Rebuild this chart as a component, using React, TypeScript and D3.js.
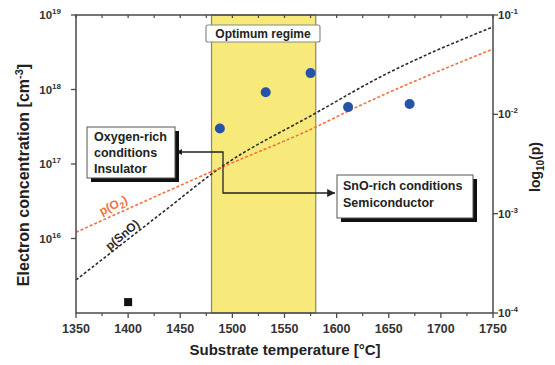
import React from "react";
import * as d3 from "d3";

const tempTicks = [1350, 1400, 1450, 1500, 1550, 1600, 1650, 1700, 1750];
const tempMinorTicks = [1375, 1425, 1475, 1525, 1575, 1625, 1675, 1725];
const leftExps = [16, 17, 18, 19];
const rightExps = [-4, -3, -2, -1];

const sampleT = [1488, 1532, 1575, 1611, 1670];
const sampleN = [3.0e17, 9.2e17, 1.66e18, 5.8e17, 6.4e17];

const refT = [1400];
const refN = [1.4e15];

const snoT = [1350, 1437, 1488, 1580, 1642, 1750];
const snoP = [2.15e-4, 1.11e-3, 2.88e-3, 1.03e-2, 2.38e-2, 7.6e-2];

const o2T = [1350, 1488, 1580, 1613, 1750];
const o2P = [6.5e-4, 2.88e-3, 7.45e-3, 1.1e-2, 4.55e-2];

const optimumRange = [1480, 1580];

const FONT = "'Liberation Sans', Arial, sans-serif";

export default function App() {
  const left = 76, right = 493, top = 15, bottom = 313;
  const x = d3.scaleLinear().domain([1350, 1750]).range([left, right]);
  const yL = d3.scaleLog().domain([1e15, 1e19]).range([bottom, top]);
  const yR = d3.scaleLog().domain([1e-4, 1e-1]).range([bottom, top]);

  const line = d3
    .line<[number, number]>()
    .x((d) => x(d[0]))
    .y((d) => yR(d[1]))
    .curve(d3.curveMonotoneX);

  const snoPath = line(snoT.map((t, i) => [t, snoP[i]]) as [number, number][]) || "";
  const o2Path = line(o2T.map((t, i) => [t, o2P[i]]) as [number, number][]) || "";

  const axisColor = "#4a4a4a";

  return (
    <svg
      width={555}
      height={365}
      style={{ position: "absolute", left: 0, top: 0, background: "#fff" }}
      fontFamily={FONT}
    >
      <defs>
        <marker id="arrR" viewBox="0 0 10 10" refX="10" refY="5" markerWidth="6" markerHeight="6" orient="auto">
          <path d="M0,0 L10,5 L0,10 z" fill="#222" />
        </marker>
      </defs>

      {/* optimum regime */}
      <rect
        x={x(optimumRange[0])}
        y={top}
        width={x(optimumRange[1]) - x(optimumRange[0])}
        height={bottom - top}
        fill="#f7ea7b"
        stroke="#8a8668"
        strokeWidth={1.2}
      />
      <rect x={206} y={25} width={114} height={17} rx={2} fill="#fff" stroke="#8a8a8a" strokeWidth={1.2} />
      <text x={263} y={38} textAnchor="middle" fontSize={12} fontWeight="bold" fill="#222">
        Optimum regime
      </text>

      {/* dashed lines */}
      <path d={snoPath} fill="none" stroke="#2b2b2b" strokeWidth={1.6} strokeDasharray="3,2" />
      <path d={o2Path} fill="none" stroke="#f4703f" strokeWidth={1.6} strokeDasharray="3,2" />

      <text
        transform={`translate(115,209) rotate(-26)`}
        textAnchor="middle"
        fontSize={12}
        fontWeight="bold"
        fill="#f4703f"
      >
        p(O<tspan dy={3} fontSize={9}>2</tspan>
        <tspan dy={-3}>)</tspan>
      </text>
      <text
        transform={`translate(125,238) rotate(-40)`}
        textAnchor="middle"
        fontSize={12}
        fontWeight="bold"
        fill="#2b2b2b"
      >
        p(SnO)
      </text>

      {/* connector */}
      <polyline
        points="177,152 223,152 223,193 335,193"
        fill="none"
        stroke="#222"
        strokeWidth={1.3}
        markerEnd="url(#arrR)"
      />
      <path d="M176,152 L182,149 L182,155 z" fill="#222" />

      {/* oxygen box */}
      <rect x={91} y={131} width={88} height={51} fill="#111" />
      <rect x={87} y={127} width={88} height={51} fill="#fff" stroke="#555" strokeWidth={1} />
      <g fontSize={12.5} fontWeight="bold" fill="#222">
        <text x={94} y={141}>Oxygen-rich</text>
        <text x={94} y={157}>conditions</text>
        <text x={94} y={173}>Insulator</text>
      </g>

      {/* SnO box */}
      <rect x={341} y={179} width={136} height={43} fill="#111" />
      <rect x={337} y={175} width={136} height={43} fill="#fff" stroke="#555" strokeWidth={1} />
      <g fontSize={12.5} fontWeight="bold" fill="#222">
        <text x={343} y={190}>SnO-rich conditions</text>
        <text x={343} y={207}>Semiconductor</text>
      </g>

      {/* data points */}
      {sampleT.map((t, i) => (
        <circle key={i} cx={x(t)} cy={yL(sampleN[i])} r={5} fill="#2553a8" />
      ))}
      {refT.map((t, i) => (
        <rect key={i} x={x(t) - 4} y={yL(refN[i]) - 4} width={8} height={8} fill="#111" />
      ))}

      {/* frame */}
      <rect x={left} y={top} width={right - left} height={bottom - top} fill="none" stroke={axisColor} strokeWidth={1.5} />

      {/* bottom ticks */}
      {tempTicks.map((t) => (
        <g key={t}>
          <line x1={x(t)} x2={x(t)} y1={bottom} y2={bottom + 5} stroke={axisColor} strokeWidth={1.3} />
          <line x1={x(t)} x2={x(t)} y1={top} y2={top + 3} stroke={axisColor} strokeWidth={1.3} />
          <text x={x(t)} y={bottom + 20} textAnchor="middle" fontSize={12.5} fontWeight="bold" fill="#333">
            {t}
          </text>
        </g>
      ))}
      {tempMinorTicks.map((t) => (
        <g key={t}>
          <line x1={x(t)} x2={x(t)} y1={bottom} y2={bottom + 3} stroke={axisColor} strokeWidth={1.2} />
          <line x1={x(t)} x2={x(t)} y1={top} y2={top + 3} stroke={axisColor} strokeWidth={1.2} />
        </g>
      ))}

      {/* left ticks */}
      {leftExps.map((e) => (
        <g key={e}>
          <line x1={left - 5} x2={left} y1={yL(Math.pow(10, e))} y2={yL(Math.pow(10, e))} stroke={axisColor} strokeWidth={1.3} />
          <text x={61} y={yL(Math.pow(10, e)) + 4} textAnchor="end" fontSize={11.5} fontWeight="bold" fill="#333">
            10<tspan dy={-5} fontSize={8}>{e}</tspan>
          </text>
        </g>
      ))}

      {/* right ticks */}
      {rightExps.map((e) => (
        <g key={e}>
          <line x1={right} x2={right + 5} y1={yR(Math.pow(10, e))} y2={yR(Math.pow(10, e))} stroke={axisColor} strokeWidth={1.3} />
          <text x={498} y={yR(Math.pow(10, e)) + 4} fontSize={11.5} fontWeight="bold" fill="#333">
            10<tspan dy={-5} fontSize={8}>{e}</tspan>
          </text>
        </g>
      ))}

      {/* axis titles */}
      <text x={285} y={355} textAnchor="middle" fontSize={15} fontWeight="bold" fill="#222">
        Substrate temperature [°C]
      </text>
      <text
        transform="translate(29,175) rotate(-90)"
        textAnchor="middle"
        fontSize={16}
        fontWeight="bold"
        fill="#222"
      >
        Electron concentration [cm<tspan dy={-6} fontSize={11}>-3</tspan>
        <tspan dy={6}>]</tspan>
      </text>
      <text
        transform="translate(540,167) rotate(-90)"
        textAnchor="middle"
        fontSize={14}
        fontWeight="bold"
        fill="#222"
      >
        log<tspan dy={4} fontSize={10}>10</tspan>
        <tspan dy={-4}>(p)</tspan>
      </text>
    </svg>
  );
}
